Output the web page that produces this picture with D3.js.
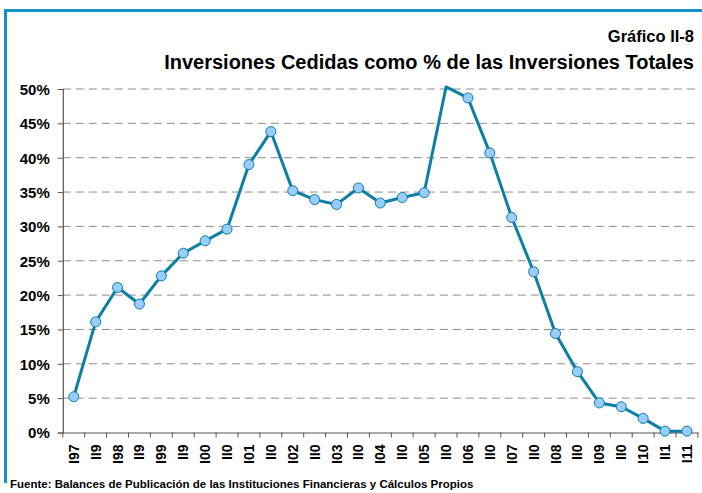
<!DOCTYPE html>
<html>
<head>
<meta charset="utf-8">
<script src="https://cdn.jsdelivr.net/npm/d3@7/dist/d3.min.js"></script>
<style>
  body { margin:0; background:#fff; }
  svg text { font-family:"Liberation Sans", Arial, sans-serif; font-weight:bold; fill:#000; }
</style>
</head>
<body>
<div id="chart"></div>
<script>
// semester labels as printed on the axis
var periods=["I97","II9","I98","II9","I99","II9","I00","II0","I01","II0","I02","II0","I03","II0","I04","II0",
  "I05","II0","I06","II0","I07","II0","I08","II0","I09","II0","I10","II1","I11"];
var ceded=[5.2,16.1,21.1,18.7,22.8,26.1,27.9,29.6,39.0,43.8,35.2,33.9,33.2,35.6,33.4,34.2,
  34.9,50.3,48.7,40.7,31.3,23.4,14.4,8.85,4.3,3.75,2.05,0.2,0.2];
var yTicks=[0,5,10,15,20,25,30,35,40,45,50];

var W=702,H=493;
var margins={l:62.8,t:89,r:4,b:60};

var svg=d3.select("#chart").append("svg").attr("width",W).attr("height",H);

// blue frame (left + top)
svg.append("rect").attr("x",4).attr("y",9).attr("width",W-4).attr("height",3).attr("fill","#1591c8");
svg.append("rect").attr("x",4).attr("y",9).attr("width",3).attr("height",474).attr("fill","#1591c8");

svg.append("text").attr("x",694).attr("y",42).attr("text-anchor","end")
  .style("font-size","16.5px").text("Gráfico II-8");
svg.append("text").attr("x",694).attr("y",69).attr("text-anchor","end")
  .style("font-size","20px").text("Inversiones Cedidas como % de las Inversiones Totales");

var x=d3.scaleBand().domain(d3.range(periods.length)).range([margins.l,margins.l+29*21.9]);
var y=d3.scaleLinear().domain([0,50]).range([432.5,89]);

var g=svg.append("g");

// gridlines
g.selectAll("line.grid").data(yTicks.filter(function(d){return d>0;})).enter().append("line")
  .attr("class","grid")
  .attr("x1",margins.l).attr("x2",x.range()[1])
  .attr("y1",function(d){return y(d);}).attr("y2",function(d){return y(d);})
  .attr("stroke","#8c8c8c").attr("stroke-width",1).attr("stroke-dasharray","8,5");

// y axis
var yAxis=g.append("g").attr("transform","translate("+margins.l+",0)")
  .call(d3.axisLeft(y).tickValues(yTicks).tickSize(5).tickFormat(function(d){return d+"%";}));
yAxis.select(".domain").attr("stroke","#555").attr("stroke-width",1.2);
yAxis.selectAll(".tick line").attr("stroke","#555");
yAxis.selectAll("text").style("font-size","15px").attr("x",-13).attr("dy","0.36em")
  .style("font-family","Liberation Sans, Arial, sans-serif").style("font-weight","bold").attr("fill","#000");

// x axis
var xAxis=g.append("g").attr("transform","translate(0,"+y(0)+")")
  .call(d3.axisBottom(x).tickSize(0).tickFormat(function(i){return periods[i];}));
xAxis.select(".domain").attr("stroke","#555").attr("stroke-width",1.2);
xAxis.selectAll("text").style("font-size","14px")
  .style("font-family","Liberation Sans, Arial, sans-serif").style("font-weight","bold").attr("fill","#000")
  .attr("transform","rotate(-90)").attr("text-anchor","end").attr("x",-12).attr("y",0).attr("dy","0.36em");
// ticks between categories
xAxis.selectAll("line.sep").data(d3.range(periods.length+1)).enter().append("line")
  .attr("class","sep")
  .attr("x1",function(i){return margins.l+i*x.step();}).attr("x2",function(i){return margins.l+i*x.step();})
  .attr("y1",0).attr("y2",5).attr("stroke","#555");

var line=d3.line().x(function(d,i){return x(i)+x.bandwidth()/2;}).y(function(d){return y(d);});
g.append("path").datum(ceded).attr("d",line)
  .attr("fill","none").attr("stroke","#0b7fa6").attr("stroke-width",3).attr("stroke-linejoin","round");

g.selectAll("circle").data(ceded.map(function(v,i){return {v:v,i:i};}).filter(function(d){return d.v<=50;}))
  .enter().append("circle")
  .attr("cx",function(d){return x(d.i)+x.bandwidth()/2;})
  .attr("cy",function(d){return y(d.v);})
  .attr("r",5)
  .attr("fill","#99ccff").attr("stroke","#0b7fa6").attr("stroke-width",1);

svg.append("text").attr("x",10).attr("y",488).style("font-size","11.5px")
  .text("Fuente: Balances de Publicación de las Instituciones Financieras y Cálculos Propios");
</script>
</body>
</html>
